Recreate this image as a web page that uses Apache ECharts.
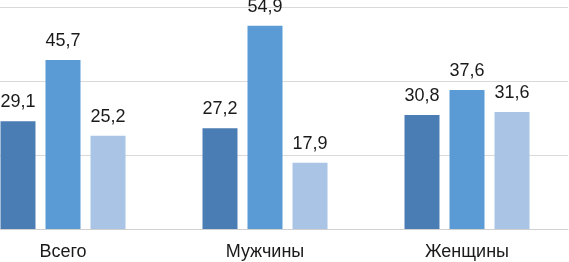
<!DOCTYPE html>
<html><head><meta charset="utf-8">
<script src="https://cdn.jsdelivr.net/npm/echarts@6/dist/echarts.min.js"></script>
<style>html,body{margin:0;padding:0;background:#fff;overflow:hidden;width:569px;height:262px}#c{width:607px;height:262px;margin-left:-38px}</style>
</head><body><div id="c"></div>
<script>
const categories = ['Всего', 'Мужчины', 'Женщины'];
const series1 = [29.1, 27.2, 30.8];
const series2 = [45.7, 54.9, 37.6];
const series3 = [25.2, 17.9, 31.6];
const colors = ['#4a7db4', '#5b9bd5', '#a9c4e5'];
const fmt = p => String(p.value).replace('.', ',');
const mk = (data, i) => ({
  type: 'bar', data, barWidth: 35, barGap: '28.6%',
  itemStyle: { color: colors[i] },
  label: { show: true, position: 'top', distance: 10, formatter: fmt,
    fontFamily: 'Liberation Sans', fontSize: 18, color: '#1a1a1a' }
});
const chart = echarts.init(document.getElementById('c'));
chart.setOption({
  animation: false,
  grid: { left: 0, right: 1, top: 7, bottom: 33 },
  xAxis: { type: 'category', data: categories,
    axisLine: { lineStyle: { color: '#d0d0d0', width: 1 } },
    axisTick: { show: false },
    axisLabel: { fontFamily: 'Liberation Sans', fontSize: 18, color: '#1a1a1a', margin: 14 } },
  yAxis: { type: 'value', min: 0, max: 60, interval: 20,
    axisLabel: { show: false }, axisLine: { show: false }, axisTick: { show: false },
    splitLine: { lineStyle: { color: '#d9d9d9', width: 1 } } },
  series: [mk(series1, 0), mk(series2, 1), mk(series3, 2)]
});
</script></body></html>
